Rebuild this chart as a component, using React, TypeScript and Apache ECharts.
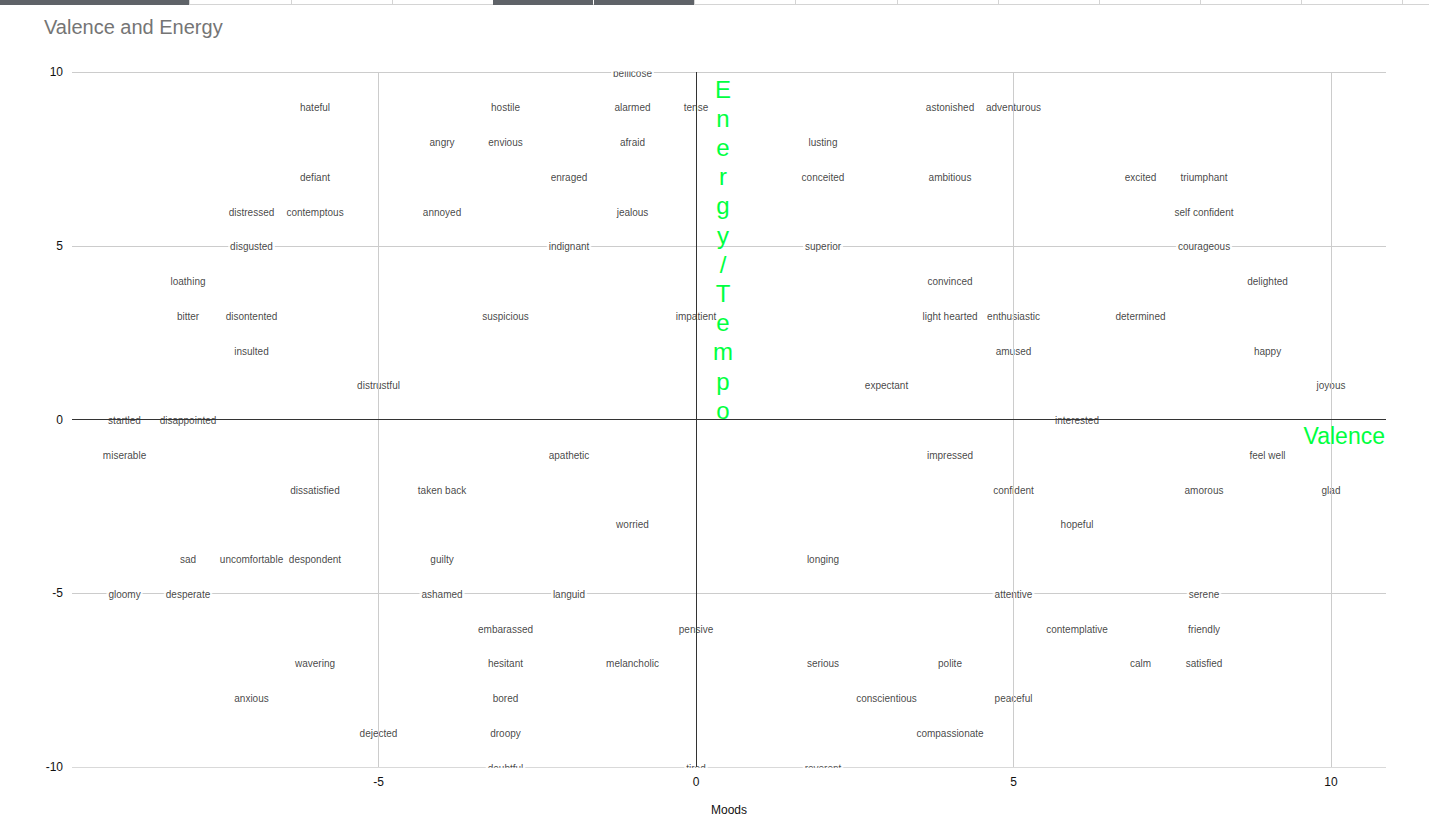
import React, { useEffect, useRef } from 'react';
import * as echarts from 'echarts';

const moods = [
  'bellicose', 'hateful', 'hostile', 'alarmed', 'tense', 'astonished', 'adventurous',
  'angry', 'envious', 'afraid', 'lusting',
  'defiant', 'enraged', 'conceited', 'ambitious', 'excited', 'triumphant',
  'distressed', 'contemptous', 'annoyed', 'jealous', 'self confident',
  'disgusted', 'indignant', 'superior', 'courageous',
  'loathing', 'convinced', 'delighted',
  'bitter', 'disontented', 'suspicious', 'impatient', 'light hearted', 'enthusiastic', 'determined',
  'insulted', 'amused', 'happy',
  'distrustful', 'expectant', 'joyous',
  'startled', 'disappointed', 'interested',
  'miserable', 'apathetic', 'impressed', 'feel well',
  'dissatisfied', 'taken back', 'confident', 'amorous', 'glad',
  'worried', 'hopeful',
  'sad', 'uncomfortable', 'despondent', 'guilty', 'longing',
  'gloomy', 'desperate', 'ashamed', 'languid', 'attentive', 'serene',
  'embarassed', 'pensive', 'contemplative', 'friendly',
  'wavering', 'hesitant', 'melancholic', 'serious', 'polite', 'calm', 'satisfied',
  'anxious', 'bored', 'conscientious', 'peaceful',
  'dejected', 'droopy', 'compassionate',
  'doubtful', 'tired', 'reverent',
];

const valence = [
  -1, -6, -3, -1, 0, 4, 5,
  -4, -3, -1, 2,
  -6, -2, 2, 4, 7, 8,
  -7, -6, -4, -1, 8,
  -7, -2, 2, 8,
  -8, 4, 9,
  -8, -7, -3, 0, 4, 5, 7,
  -7, 5, 9,
  -5, 3, 10,
  -9, -8, 6,
  -9, -2, 4, 9,
  -6, -4, 5, 8, 10,
  -1, 6,
  -8, -7, -6, -4, 2,
  -9, -8, -4, -2, 5, 8,
  -3, 0, 6, 8,
  -6, -3, -1, 2, 4, 7, 8,
  -7, -3, 3, 5,
  -5, -3, 4,
  -3, 0, 2,
];

const energy = [
  10, 9, 9, 9, 9, 9, 9,
  8, 8, 8, 8,
  7, 7, 7, 7, 7, 7,
  6, 6, 6, 6, 6,
  5, 5, 5, 5,
  4, 4, 4,
  3, 3, 3, 3, 3, 3, 3,
  2, 2, 2,
  1, 1, 1,
  0, 0, 0,
  -1, -1, -1, -1,
  -2, -2, -2, -2, -2,
  -3, -3,
  -4, -4, -4, -4, -4,
  -5, -5, -5, -5, -5, -5,
  -6, -6, -6, -6,
  -7, -7, -7, -7, -7, -7, -7,
  -8, -8, -8, -8,
  -9, -9, -9,
  -10, -10, -10,
];

const xTickValues = [-5, 0, 5, 10];
const xGridValues = [-5, 5, 10];
const xMin = -9.827;
const xMax = 10.866;

const FONT = 'Arial, "Liberation Sans", Helvetica, sans-serif';
const GREEN = '#00ff40';

export default function App() {
  const ref = useRef<HTMLDivElement>(null);

  useEffect(() => {
    const chart = echarts.init(ref.current!, null, { renderer: 'svg' });
    const data = moods.map((m, i) => ({ name: m, value: [valence[i], energy[i]] }));

    const tabs: any[] = [];
    tabs.push({ type: 'rect', z: 20, shape: { x: 0, y: 4, width: 1429, height: 1 }, style: { fill: '#d4d4d4' } });
    [189, 291, 392, 694, 795, 897, 998, 1099, 1200, 1301, 1402].forEach((x) => {
      tabs.push({ type: 'rect', z: 20, shape: { x, y: 0, width: 1, height: 5 }, style: { fill: '#d4d4d4' } });
    });
    tabs.push({ type: 'rect', z: 21, shape: { x: 0, y: 0, width: 189, height: 5 }, style: { fill: '#5f6368' } });
    tabs.push({ type: 'rect', z: 21, shape: { x: 493, y: 0, width: 100, height: 5 }, style: { fill: '#5f6368' } });
    tabs.push({ type: 'rect', z: 21, shape: { x: 594, y: 0, width: 100, height: 5 }, style: { fill: '#5f6368' } });

    const option: any = {
      animation: false,
      backgroundColor: '#fff',
      textStyle: { fontFamily: FONT },
      title: {
        text: 'Valence and Energy',
        left: 39,
        top: 12,
        textStyle: { fontSize: 20, fontWeight: 'normal', color: '#757575', fontFamily: FONT },
      },
      grid: { left: 72, right: 43, top: 72, bottom: 49, outerBoundsMode: 'none', containLabel: false },
      xAxis: {
        type: 'value',
        min: xMin,
        max: xMax,
        name: 'Moods',
        nameLocation: 'middle',
        nameGap: 37,
        nameTextStyle: { fontSize: 12, color: '#111', fontFamily: FONT },
        axisLine: { show: false },
        axisTick: { show: false, customValues: xTickValues },
        splitLine: { show: false },
        axisLabel: { customValues: xTickValues, fontSize: 12, color: '#111', margin: 9, fontFamily: FONT },
      },
      yAxis: {
        type: 'value',
        min: -10,
        max: 10,
        interval: 5,
        axisLine: { show: false },
        axisTick: { show: false },
        splitLine: { show: true, lineStyle: { color: '#cccccc', width: 1 } },
        axisLabel: { fontSize: 12, color: '#111', margin: 9, fontFamily: FONT },
      },
      series: [
        {
          type: 'scatter',
          z: 1,
          data: [],
          markLine: {
            silent: true,
            symbol: 'none',
            label: { show: false },
            data: [
              ...xGridValues.map((v) => ({ xAxis: v, lineStyle: { color: '#cccccc', width: 1, type: 'solid' } })),
              { yAxis: 0, lineStyle: { color: '#333', width: 1, type: 'solid' } },
            ],
          },
        },
        {
          type: 'scatter',
          z: 2,
          symbolSize: 1,
          itemStyle: { color: 'rgba(0,0,0,0)' },
          data,
          label: {
            show: true,
            position: 'inside',
            offset: [0, 1],
            formatter: '{b}',
            fontSize: 10,
            color: '#111',
            fontFamily: FONT,
            backgroundColor: '#fff',
            padding: [1, 2],
          },
        },
        {
          type: 'scatter',
          z: 3,
          data: [],
          markLine: {
            silent: true,
            symbol: 'none',
            label: { show: false },
            data: [{ xAxis: 0, lineStyle: { color: '#333', width: 1, type: 'solid' } }],
          },
        },
      ],
      graphic: [
        ...tabs,
        { type: 'rect', z: 10, shape: { x: 72, y: 40, width: 1357, height: 31.5 }, style: { fill: '#fff' } },
        { type: 'rect', z: 10, shape: { x: 72, y: 767.8, width: 1320, height: 6 }, style: { fill: '#fff' } },
        {
          type: 'text',
          z: 30,
          x: 723,
          y: 74.5,
          style: {
            text: 'Energy/Tempo'.split('').join('\n'),
            fontSize: 24,
            lineHeight: 29.2,
            fill: GREEN,
            align: 'center',
            verticalAlign: 'top',
            fontFamily: FONT,
          },
        },
        {
          type: 'text',
          z: 30,
          x: 1385,
          y: 436,
          style: {
            text: 'Valence',
            fontSize: 23,
            fill: GREEN,
            align: 'right',
            verticalAlign: 'middle',
            fontFamily: FONT,
          },
        },
      ],
    };
    chart.setOption(option);
    return () => chart.dispose();
  }, []);

  return (
    <div
      ref={ref}
      style={{ position: 'fixed', left: 0, top: 0, width: 1429, height: 816, background: '#fff' }}
    />
  );
}
